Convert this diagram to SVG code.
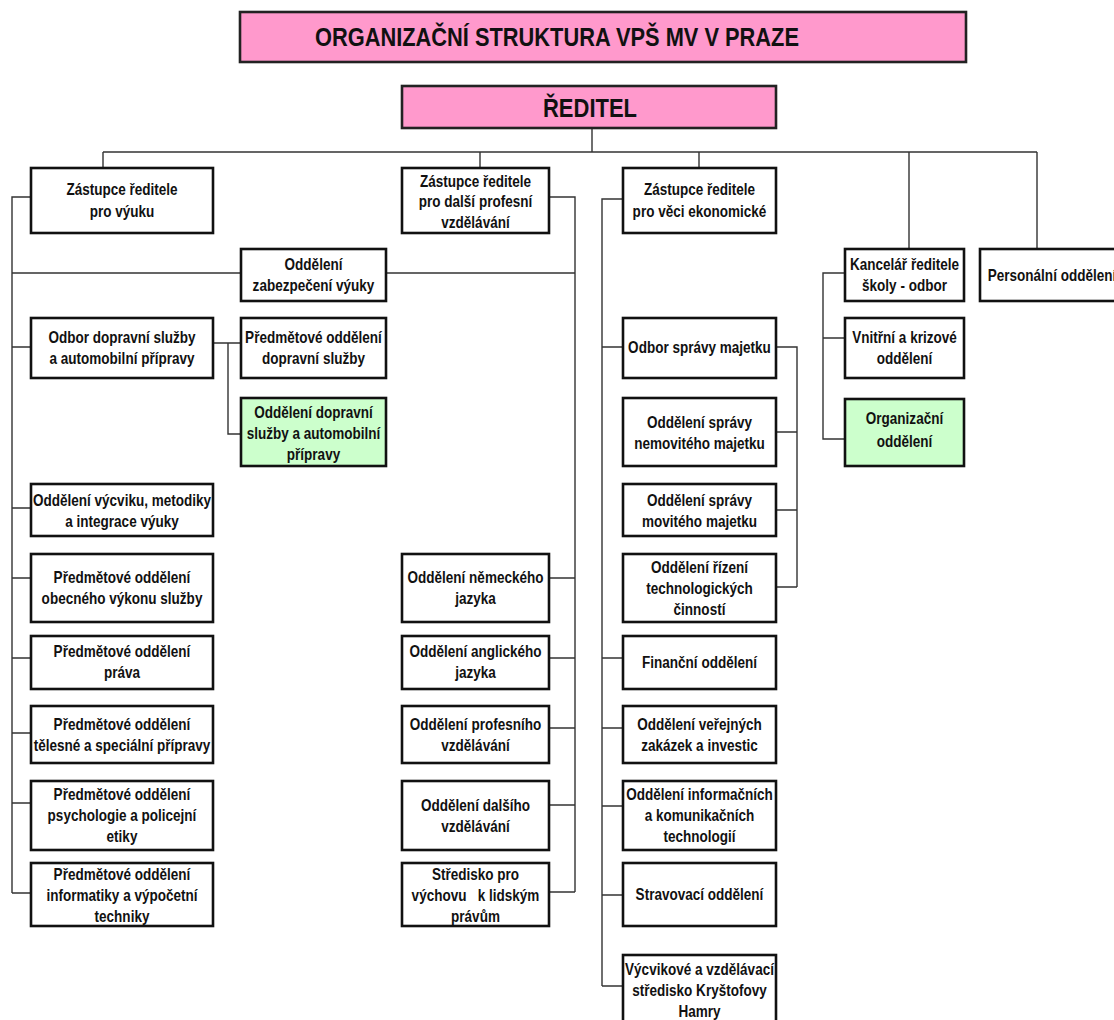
<svg xmlns="http://www.w3.org/2000/svg" width="1114" height="1020" viewBox="0 0 1114 1020">
<style>
.b{fill:#fff;stroke:#111;stroke-width:2.6}
.p{fill:#ff99cc;stroke:#222;stroke-width:2.6}
.g{fill:#ccffcc;stroke:#111;stroke-width:2.6}
.t{font-family:"Liberation Sans",Arial,sans-serif;font-weight:bold;font-size:16.5px;fill:#111;text-anchor:middle}
.h{font-family:"Liberation Sans",Arial,sans-serif;font-weight:bold;font-size:26px;fill:#111;text-anchor:middle}
.c{fill:none;stroke:#333;stroke-width:1.4}
</style>
<rect x="0" y="0" width="1114" height="1020" fill="#fff"/>
<g id="connectors" class="c">
<path d="M592 128V152M103 152H1037M103 152V168M480 152V168M699 152V168M909 152V249M1037 152V249"/>
<path d="M31 197H12V893M12 273H241M12 347H31M12 508H31M12 578H31M12 658H31M12 733H31M12 803H31M12 893H31"/>
<path d="M386 273H575M549 197H575V892M549 578H575M549 658H575M549 728H575M549 805H575M549 892H575"/>
<path d="M213 343H241M228 343V434H241"/>
<path d="M623 199H602V986M602 347H623M602 658H623M602 728H623M602 806H623M602 895H623M602 986H623"/>
<path d="M776 347H797V587M776 432H797M776 510H797M776 587H797"/>
<path d="M845 273H823V439H845M823 338H845"/>
</g>
<g id="title"><rect class="p" x="240" y="12" width="726" height="50"/><text class="h" x="557" y="46" textLength="484" lengthAdjust="spacingAndGlyphs">ORGANIZAČNÍ STRUKTURA VPŠ MV V PRAZE</text></g>
<g id="reditel"><rect class="p" x="402" y="86" width="374" height="42"/><text class="h" x="590" y="117" textLength="94" lengthAdjust="spacingAndGlyphs">ŘEDITEL</text></g>

<g id="zr-vyuka"><rect class="b" x="31" y="168" width="182" height="65"/><text class="t" transform="translate(122 0) scale(0.82 1)"><tspan x="0" y="195">Zástupce ředitele</tspan><tspan x="0" y="217">pro výuku</tspan></text></g>
<g id="zr-prof"><rect class="b" x="402" y="168" width="147" height="65"/><text class="t" transform="translate(475.5 0) scale(0.82 1)"><tspan x="0" y="187">Zástupce ředitele</tspan><tspan x="0" y="207">pro další profesní</tspan><tspan x="0" y="228">vzdělávání</tspan></text></g>
<g id="zr-eko"><rect class="b" x="623" y="168" width="153" height="65"/><text class="t" transform="translate(699.5 0) scale(0.82 1)"><tspan x="0" y="195">Zástupce ředitele</tspan><tspan x="0" y="217">pro věci ekonomické</tspan></text></g>
<g id="kancelar"><rect class="b" x="845" y="249" width="119" height="52"/><text class="t" transform="translate(904.5 0) scale(0.82 1)"><tspan x="0" y="270">Kancelář ředitele</tspan><tspan x="0" y="291">školy - odbor</tspan></text></g>
<g id="personalni"><rect class="b" x="980" y="249" width="150" height="52"/><text class="t" transform="translate(1052 0) scale(0.82 1)"><tspan x="0" y="281">Personální oddělení</tspan></text></g>

<g id="odd-zabezp"><rect class="b" x="241" y="249" width="145" height="52"/><text class="t" transform="translate(313.5 0) scale(0.82 1)"><tspan x="0" y="270">Oddělení</tspan><tspan x="0" y="291">zabezpečení výuky</tspan></text></g>
<g id="odbor-doprav"><rect class="b" x="31" y="318" width="182" height="60"/><text class="t" transform="translate(122 0) scale(0.82 1)"><tspan x="0" y="343">Odbor dopravní služby</tspan><tspan x="0" y="364">a automobilní přípravy</tspan></text></g>
<g id="pred-doprav"><rect class="b" x="241" y="318" width="145" height="60"/><text class="t" transform="translate(313.5 0) scale(0.82 1)"><tspan x="0" y="343">Předmětové oddělení</tspan><tspan x="0" y="364">dopravní služby</tspan></text></g>
<g id="odd-doprav"><rect class="g" x="241" y="398" width="145" height="68"/><text class="t" transform="translate(313.5 0) scale(0.82 1)"><tspan x="0" y="418">Oddělení dopravní</tspan><tspan x="0" y="439">služby a automobilní</tspan><tspan x="0" y="460">přípravy</tspan></text></g>

<g id="odd-vycviku"><rect class="b" x="31" y="484" width="182" height="52"/><text class="t" transform="translate(122 0) scale(0.82 1)"><tspan x="0" y="506">Oddělení výcviku, metodiky</tspan><tspan x="0" y="527">a integrace výuky</tspan></text></g>
<g id="pred-obecneho"><rect class="b" x="31" y="554" width="182" height="68"/><text class="t" transform="translate(122 0) scale(0.82 1)"><tspan x="0" y="583">Předmětové oddělení</tspan><tspan x="0" y="604">obecného výkonu služby</tspan></text></g>
<g id="pred-prava"><rect class="b" x="31" y="636" width="182" height="53"/><text class="t" transform="translate(122 0) scale(0.82 1)"><tspan x="0" y="657">Předmětové oddělení</tspan><tspan x="0" y="678">práva</tspan></text></g>
<g id="pred-telesne"><rect class="b" x="31" y="706" width="182" height="57"/><text class="t" transform="translate(122 0) scale(0.82 1)"><tspan x="0" y="730">Předmětové oddělení</tspan><tspan x="0" y="751">tělesné a speciální přípravy</tspan></text></g>
<g id="pred-psych"><rect class="b" x="31" y="781" width="182" height="69"/><text class="t" transform="translate(122 0) scale(0.82 1)"><tspan x="0" y="800">Předmětové oddělení</tspan><tspan x="0" y="821">psychologie a policejní</tspan><tspan x="0" y="842">etiky</tspan></text></g>
<g id="pred-inform"><rect class="b" x="31" y="863" width="182" height="63"/><text class="t" transform="translate(122 0) scale(0.82 1)"><tspan x="0" y="880">Předmětové oddělení</tspan><tspan x="0" y="901">informatiky a výpočetní</tspan><tspan x="0" y="922">techniky</tspan></text></g>

<g id="odd-nem"><rect class="b" x="402" y="554" width="147" height="68"/><text class="t" transform="translate(475.5 0) scale(0.82 1)"><tspan x="0" y="583">Oddělení německého</tspan><tspan x="0" y="604">jazyka</tspan></text></g>
<g id="odd-angl"><rect class="b" x="402" y="636" width="147" height="53"/><text class="t" transform="translate(475.5 0) scale(0.82 1)"><tspan x="0" y="657">Oddělení anglického</tspan><tspan x="0" y="678">jazyka</tspan></text></g>
<g id="odd-prof"><rect class="b" x="402" y="706" width="147" height="57"/><text class="t" transform="translate(475.5 0) scale(0.82 1)"><tspan x="0" y="730">Oddělení profesního</tspan><tspan x="0" y="751">vzdělávání</tspan></text></g>
<g id="odd-dalsi"><rect class="b" x="402" y="781" width="147" height="69"/><text class="t" transform="translate(475.5 0) scale(0.82 1)"><tspan x="0" y="811">Oddělení dalšího</tspan><tspan x="0" y="832">vzdělávání</tspan></text></g>
<g id="stredisko"><rect class="b" x="402" y="863" width="147" height="63"/><text class="t" transform="translate(475.5 0) scale(0.82 1)" xml:space="preserve"><tspan x="0" y="880">Středisko pro</tspan><tspan x="0" y="901">výchovu   k lidským</tspan><tspan x="0" y="922">právům</tspan></text></g>

<g id="odbor-sprav"><rect class="b" x="623" y="318" width="153" height="60"/><text class="t" transform="translate(699.5 0) scale(0.82 1)"><tspan x="0" y="353">Odbor správy majetku</tspan></text></g>
<g id="odd-nemov"><rect class="b" x="623" y="398" width="153" height="68"/><text class="t" transform="translate(699.5 0) scale(0.82 1)"><tspan x="0" y="428">Oddělení správy</tspan><tspan x="0" y="449">nemovitého majetku</tspan></text></g>
<g id="odd-mov"><rect class="b" x="623" y="484" width="153" height="52"/><text class="t" transform="translate(699.5 0) scale(0.82 1)"><tspan x="0" y="506">Oddělení správy</tspan><tspan x="0" y="527">movitého majetku</tspan></text></g>
<g id="odd-rizeni"><rect class="b" x="623" y="554" width="153" height="68"/><text class="t" transform="translate(699.5 0) scale(0.82 1)"><tspan x="0" y="573">Oddělení řízení</tspan><tspan x="0" y="594">technologických</tspan><tspan x="0" y="615">činností</tspan></text></g>
<g id="financni"><rect class="b" x="623" y="636" width="153" height="53"/><text class="t" transform="translate(699.5 0) scale(0.82 1)"><tspan x="0" y="668">Finanční oddělení</tspan></text></g>
<g id="odd-verej"><rect class="b" x="623" y="706" width="153" height="57"/><text class="t" transform="translate(699.5 0) scale(0.82 1)"><tspan x="0" y="730">Oddělení veřejných</tspan><tspan x="0" y="751">zakázek a investic</tspan></text></g>
<g id="odd-ikt"><rect class="b" x="623" y="781" width="153" height="69"/><text class="t" transform="translate(699.5 0) scale(0.82 1)"><tspan x="0" y="800">Oddělení informačních</tspan><tspan x="0" y="821">a komunikačních</tspan><tspan x="0" y="842">technologií</tspan></text></g>
<g id="stravovaci"><rect class="b" x="623" y="863" width="153" height="63"/><text class="t" transform="translate(699.5 0) scale(0.82 1)"><tspan x="0" y="900">Stravovací oddělení</tspan></text></g>
<g id="vycvikove"><rect class="b" x="623" y="955" width="153" height="75"/><text class="t" transform="translate(699.5 0) scale(0.82 1)"><tspan x="0" y="975">Výcvikové a vzdělávací</tspan><tspan x="0" y="996">středisko Kryštofovy</tspan><tspan x="0" y="1017">Hamry</tspan></text></g>

<g id="vnitrni"><rect class="b" x="845" y="318" width="119" height="60"/><text class="t" transform="translate(904.5 0) scale(0.82 1)"><tspan x="0" y="343">Vnitřní a krizové</tspan><tspan x="0" y="364">oddělení</tspan></text></g>
<g id="organizacni"><rect class="g" x="845" y="399" width="119" height="67"/><text class="t" transform="translate(904.5 0) scale(0.82 1)"><tspan x="0" y="424">Organizační</tspan><tspan x="0" y="447">oddělení</tspan></text></g>
</svg>
